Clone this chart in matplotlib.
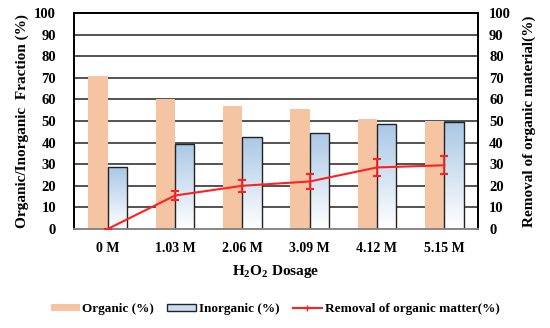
import numpy as np
import matplotlib
matplotlib.use("Agg")
import matplotlib.pyplot as plt
from matplotlib.patches import Rectangle
from matplotlib.lines import Line2D

categories = ["0 M", "1.03 M", "2.06 M", "3.09 M", "4.12 M", "5.15 M"]
organic = [71, 60, 57, 55.5, 51, 50]
inorganic = [28.5, 39.5, 42.5, 44.5, 48.5, 49.5]
removal = [0, 15.5, 20, 22, 28.5, 29.5]
removal_err = [0, 2.3, 2.8, 3.3, 4.0, 4.2]

plt.rcParams['font.family'] = ['Liberation Serif', 'DejaVu Serif']
plt.rcParams['font.weight'] = 'bold'
plt.rcParams['mathtext.fontset'] = 'custom'
plt.rcParams['mathtext.rm'] = 'Liberation Serif:bold'
plt.rcParams['mathtext.it'] = 'Liberation Serif:bold'

fig = plt.figure(figsize=(5.5, 3.28), dpi=100)
ax = fig.add_axes([74/550, 1-229/328, 404/550, 216/328])
x = np.arange(len(categories))
w = 0.285

ax.set_xlim(-0.5, len(categories)-0.5)
ax.set_ylim(0, 100)
ax.set_yticks(range(0, 101, 10))
for yv in range(10, 100, 10):
    ax.axhline(yv, color='#444444', lw=1.3, zorder=0)

ax.bar(x - w/2, organic, width=w, color='#F5C4A3', zorder=2)
bars = ax.bar(x + w/2, inorganic, width=w, color='none', edgecolor='#222222', lw=1.0, zorder=3)

cmap = matplotlib.colors.LinearSegmentedColormap.from_list('g', ['#FFFFFF', '#A9C8E6'])
grad = np.linspace(0, 1, 100).reshape(-1, 1)
for b in bars:
    x0, y0 = b.get_x(), b.get_y()
    bw, bh = b.get_width(), b.get_height()
    im = ax.imshow(grad, extent=[x0, x0+bw, y0+bh, y0], origin='upper', aspect='auto',
                   cmap=cmap, zorder=2.5)
    im.set_clip_path(Rectangle((x0, y0), bw, bh, transform=ax.transData))
ax.set_xlim(-0.5, len(categories)-0.5)
ax.set_ylim(0, 100)

ax2 = ax.twinx()
ax2.set_ylim(0, 100)
ax2.set_yticks(range(0, 101, 10))
ax2.errorbar(x, removal, yerr=removal_err, color='#FF2020', lw=1.5, elinewidth=1.2,
             capsize=3, capthick=1.5, zorder=5)

ax.set_xticks(x)
ax.set_xticklabels(categories, fontsize=10, fontweight='bold')
ax.tick_params(axis='x', length=0, pad=9)
ax.tick_params(axis='y', length=0, labelsize=10.5, pad=13)
ax2.tick_params(axis='y', length=0, labelsize=10.5, pad=8)
for a in (ax, ax2):
    for s in ('left', 'right', 'top'):
        a.spines[s].set_color('black')
        a.spines[s].set_linewidth(1.3)
    a.spines['bottom'].set_color('#888888')
    a.spines['bottom'].set_linewidth(1.3)

ax.set_ylabel("Organic/Inorganic  Fraction (%)", fontsize=11, fontweight='bold', labelpad=4)
ax2.set_ylabel("Removal of organic material(%)", fontsize=11, fontweight='bold', labelpad=8)
ax.set_xlabel("H$_2$O$_2$ Dosage", fontsize=11, fontweight='bold', labelpad=6)

handles = [
    Rectangle((0, 0), 1, 1, facecolor='#F5C4A3', edgecolor='none'),
    Rectangle((0, 0), 1, 1, facecolor='#C9DDF0', edgecolor='#222222', lw=1),
    Line2D([0], [0], color='#FF2020', lw=1.5, marker='+', markersize=4),
]
labels = ["Organic (%)", "Inorganic (%)", "Removal of organic matter(%)"]
fig.legend(handles, labels, loc='center', bbox_to_anchor=(0.5, 1-309/328), ncol=3,
           frameon=False, fontsize=9.5, handlelength=2.2, handleheight=0.5,
           handletextpad=0.2, columnspacing=1.0)

fig.savefig("out.png", dpi=100)
